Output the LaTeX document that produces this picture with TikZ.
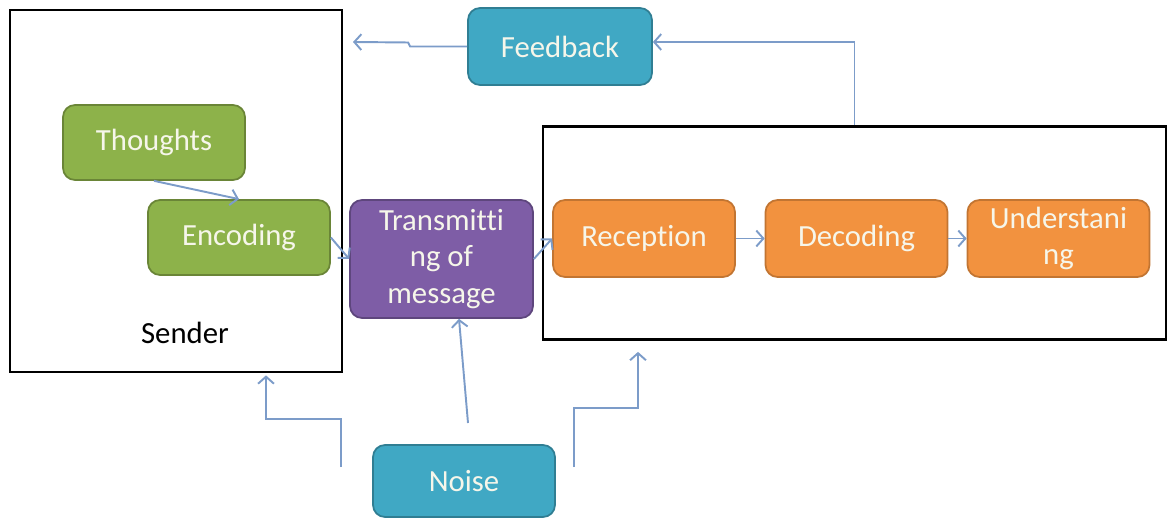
\documentclass[tikz,border=0pt]{standalone}
\usepackage{fontspec}
\setmainfont{Carlito}[Ligatures=NoCommon]
\usetikzlibrary{arrows.meta}
\definecolor{stagegreen}{HTML}{8DB24A}
\definecolor{stagepurple}{HTML}{7E5DA6}
\definecolor{stageorange}{HTML}{F2923F}
\definecolor{stageteal}{HTML}{40A8C4}
\definecolor{flowblue}{HTML}{7C9CC9}
\definecolor{softtext}{HTML}{F6F6EA}
\begin{document}
\begin{tikzpicture}[x=0.02cm, y=-0.02cm,
  stage/.style={rounded corners=0.24cm, line width=1pt, text=softtext,
    minimum width=3.64cm, minimum height=1.5cm, align=center,
    font=\fontsize{17.5}{21}\selectfont},
  frame/.style={draw=black, line width=1.6pt},
  flow/.style={draw=flowblue, line width=1.1pt, -{Straight Barb[length=4pt,width=9pt]}}]
  \useasboundingbox (0,0) rectangle (1168,519);
  % the two frames
  \node[frame, minimum width=6.64cm, minimum height=7.24cm] (sender) at (176,191) {};
  \node[frame, minimum width=12.46cm, minimum height=4.26cm] (receiver) at (854.5,233) {};
  \node[font=\fontsize{17.5}{21}\selectfont] (sendername) at (185,333) {Sender};
  % stages
  \node[stage, fill=stagegreen, draw=stagegreen!75!black] (thoughts) at (154,142.5) {Thoughts};
  \node[stage, fill=stagegreen, draw=stagegreen!75!black] (encoding) at (239,237.5) {Encoding};
  \node[stage, fill=stagepurple, draw=stagepurple!75!black, minimum width=3.66cm,
    minimum height=2.36cm] (transmit) at (441.5,259) {Transmitti\\ng of\\message};
  \node[stage, fill=stageorange, draw=stageorange!80!black, minimum height=1.54cm] (reception) at (644,238.5) {Reception};
  \node[stage, fill=stageorange, draw=stageorange!80!black, minimum height=1.54cm] (decoding) at (856.5,238.5) {Decoding};
  \node[stage, fill=stageorange, draw=stageorange!80!black, minimum height=1.54cm] (understand) at (1058.5,238.5) {Understani\\ng};
  \node[stage, fill=stageteal, draw=stageteal!75!black, minimum width=3.68cm,
    minimum height=1.54cm] (feedback) at (560,46.5) {Feedback};
  \node[stage, fill=stageteal, draw=stageteal!75!black, minimum height=1.44cm] (noise) at (464,481) {Noise};
  % free ends
  \coordinate (fbtip) at (353,42);
  \coordinate (noiseleft) at (341,467);
  \coordinate (leftbend) at (266,419);
  \coordinate (noisemid) at (468,423);
  \coordinate (noiseright) at (574,467);
  \coordinate (rightbend) at (638,408);
  % connectors
  \draw[flow] (thoughts.south) -- (encoding.north);
  \draw[flow] (encoding.east) -- (transmit.west);
  \draw[flow] (transmit.east) -- (reception.west);
  \draw[flow] (reception.east) -- (decoding.west);
  \draw[flow] (decoding.east) -- (understand.west);
  \draw[flow] (receiver.north) |- ([yshift=0.09cm]feedback.east);
  \draw[flow] (feedback.west) -- ++(-57,0) -- ++(-2,-4) -- (fbtip);
  \draw[flow] (noiseleft) |- (leftbend) -- ([yshift=-0.04cm]leftbend |- sender.south);
  \draw[flow] (noisemid) -- ([xshift=0.35cm]transmit.south);
  \draw[flow] (noiseright) |- (rightbend) -- ([yshift=-0.22cm]rightbend |- receiver.south);
\end{tikzpicture}
\end{document}
